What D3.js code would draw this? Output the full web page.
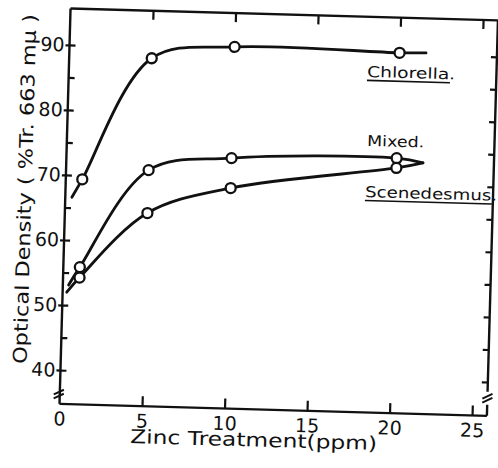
<!DOCTYPE html>
<html>
<head>
<meta charset="utf-8">
<script src="https://cdn.jsdelivr.net/npm/d3@7"></script>
<style>
  body { margin: 0; background: #fff; }
  text { font-family: "DejaVu Sans", sans-serif; fill: #111; }
</style>
</head>
<body>
<div id="wrapper"></div>
<script>
// zinc levels where samples were read (ppm)
const zinc = [1, 5, 10, 20]
const chlorella = [69.4, 88.3, 90.4, 90.2]
const mixed = [55.9, 71.1, 73.3, 74.0]
const scenedesmus = [54.3, 64.5, 68.7, 72.5]

// where each hand drawn curve starts / stops
const curveStartX = [0.4, 0.35, 0.25]
const curveStartY = [66.6, 53.1, 52.0]
const curveEndX = [21.6, 21.6, 21.6]
const curveEndY = [90.3, 73.4, 73.4]

const seriesNames = ["Chlorella.", "Mixed.", "Scenedesmus."]
const xTicks = [0, 5, 10, 15, 20, 25]
const yTicks = [40, 50, 60, 70, 80, 90]
const yMinor = [40, 45, 50, 55, 60, 65, 70, 75, 80, 85, 90]

function drawChart() {
    const dimensions = { width: 498, height: 468 }

    const svg = d3.select("#wrapper")
        .append("svg")
        .attr("width", dimensions.width)
        .attr("height", dimensions.height)

    // the scanned figure sits a little skewed on the page
    const bounds = svg.append("g")
        .attr("transform", "rotate(1.6 275 210)")

    const xScale = d3.scaleLinear().domain([0, 25]).range([65, 477.7])
    const yScale = d3.scaleLinear().domain([40, 90]).range([376, 50.7])

    const xLeft = xScale(0), xRight = xScale(25.9)
    const yTop = yScale(95.6), yBottom = yScale(34.8)

    const ink = "#111"

    // frame
    const frame = bounds.append("g")
        .attr("stroke", ink).attr("stroke-width", 2.4).attr("fill", "none")
    frame.append("line").attr("x1", xLeft).attr("x2", xRight).attr("y1", yTop).attr("y2", yTop)
    frame.append("line").attr("x1", xLeft).attr("x2", xRight).attr("y1", yBottom).attr("y2", yBottom)
    frame.append("line").attr("x1", xLeft).attr("x2", xLeft).attr("y1", yTop).attr("y2", yBottom)
    frame.append("line").attr("x1", xRight).attr("x2", xRight).attr("y1", yTop).attr("y2", yScale(38.5))
    frame.append("line").attr("x1", xRight).attr("x2", xRight).attr("y1", yScale(36.5)).attr("y2", yBottom)

    // axis break marks
    const breakMark = (cx, cy) => {
        ;[-2, 2].forEach(o => {
            frame.append("line")
                .attr("stroke-width", 2)
                .attr("x1", cx - 5).attr("y1", cy + o + 2.5)
                .attr("x2", cx + 5).attr("y2", cy + o - 2.5)
        })
    }
    breakMark(xLeft - 1, yScale(36.3))
    breakMark(xRight, yScale(37.5))

    const styleAxis = g => {
        g.select(".domain").remove()
        g.selectAll(".tick line").attr("stroke", ink).attr("stroke-width", 2.2)
        g.selectAll(".tick text")
            .style("font-family", "DejaVu Sans, sans-serif")
            .attr("fill", ink)
    }

    // left axis: labelled ticks cross the line, minor ticks point inward
    bounds.append("g")
        .attr("transform", `translate(${xLeft},0)`)
        .call(d3.axisLeft(yScale).tickValues(yTicks).tickSize(4).tickPadding(1))
        .call(styleAxis)
        .call(g => g.selectAll(".tick text").style("font-size", "19px"))
    bounds.append("g")
        .attr("transform", `translate(${xLeft},0)`)
        .call(d3.axisRight(yScale).tickValues(yMinor).tickSize(6).tickFormat(""))
        .call(styleAxis)

    // right axis ticks point inward
    bounds.append("g")
        .attr("transform", `translate(${xRight},0)`)
        .call(d3.axisLeft(yScale).tickValues(yMinor).tickSize(6).tickFormat(""))
        .call(styleAxis)

    // top ticks
    bounds.append("g")
        .attr("transform", `translate(0,${yTop})`)
        .call(d3.axisBottom(xScale).tickValues(xTicks.slice(1)).tickSize(9).tickFormat(""))
        .call(styleAxis)

    // bottom axis
    bounds.append("g")
        .attr("transform", `translate(0,${yBottom})`)
        .call(d3.axisBottom(xScale).tickValues(xTicks).tickSizeInner(-10).tickSizeOuter(0).tickPadding(8))
        .call(styleAxis)
        .call(g => g.selectAll(".tick text").style("font-size", "19px"))
        .call(g => g.selectAll(".tick line").filter(d => d === 0).remove())

    // axis titles
    bounds.append("text")
        .attr("x", 136.6).attr("y", 447)
        .attr("textLength", 247).attr("lengthAdjust", "spacingAndGlyphs")
        .style("font-size", "19px")
        .text("Zinc  Treatment(ppm)")

    bounds.append("text")
        .attr("transform", "translate(31,196) rotate(-90)")
        .attr("text-anchor", "middle")
        .attr("textLength", 350).attr("lengthAdjust", "spacingAndGlyphs")
        .style("font-size", "19px")
        .text("Optical  Density ( %Tr. 663 mμ )")

    // curves
    const allSeries = [chlorella, mixed, scenedesmus]
    const lineGen = d3.line()
        .x(d => xScale(d[0]))
        .y(d => yScale(d[1]))
        .curve(d3.curveCatmullRom.alpha(0.5))

    allSeries.forEach((values, i) => {
        const pts = [[curveStartX[i], curveStartY[i]]]
            .concat(zinc.map((z, j) => [z, values[j]]))
            .concat([[curveEndX[i], curveEndY[i]]])
        bounds.append("path")
            .attr("d", lineGen(pts))
            .attr("fill", "none")
            .attr("stroke", ink)
            .attr("stroke-width", 2.8)
            .attr("stroke-linecap", "round")
    })

    allSeries.forEach(values => {
        bounds.append("g").selectAll("circle")
            .data(zinc.map((z, j) => [z, values[j]]))
            .join("circle")
            .attr("cx", d => xScale(d[0]))
            .attr("cy", d => yScale(d[1]))
            .attr("r", 5)
            .attr("fill", "#fff")
            .attr("stroke", ink)
            .attr("stroke-width", 2.3)
    })

    // series labels
    const labelPos = [[363.3, 74.4, 88], [365.2, 143.4, 57], [364.6, 194.5, 132]]
    seriesNames.forEach((name, i) => {
        const [lx, ly, lw] = labelPos[i]
        bounds.append("text")
            .attr("x", lx).attr("y", ly)
            .attr("textLength", lw).attr("lengthAdjust", "spacingAndGlyphs")
            .style("font-size", "15px")
            .text(name)
        if (i !== 1) {
            bounds.append("line")
                .attr("x1", lx).attr("x2", lx + lw - 5)
                .attr("y1", ly + 3.5).attr("y2", ly + 3.5)
                .attr("stroke", ink).attr("stroke-width", 1.6)
        }
    })
}

drawChart()
</script>
</body>
</html>
